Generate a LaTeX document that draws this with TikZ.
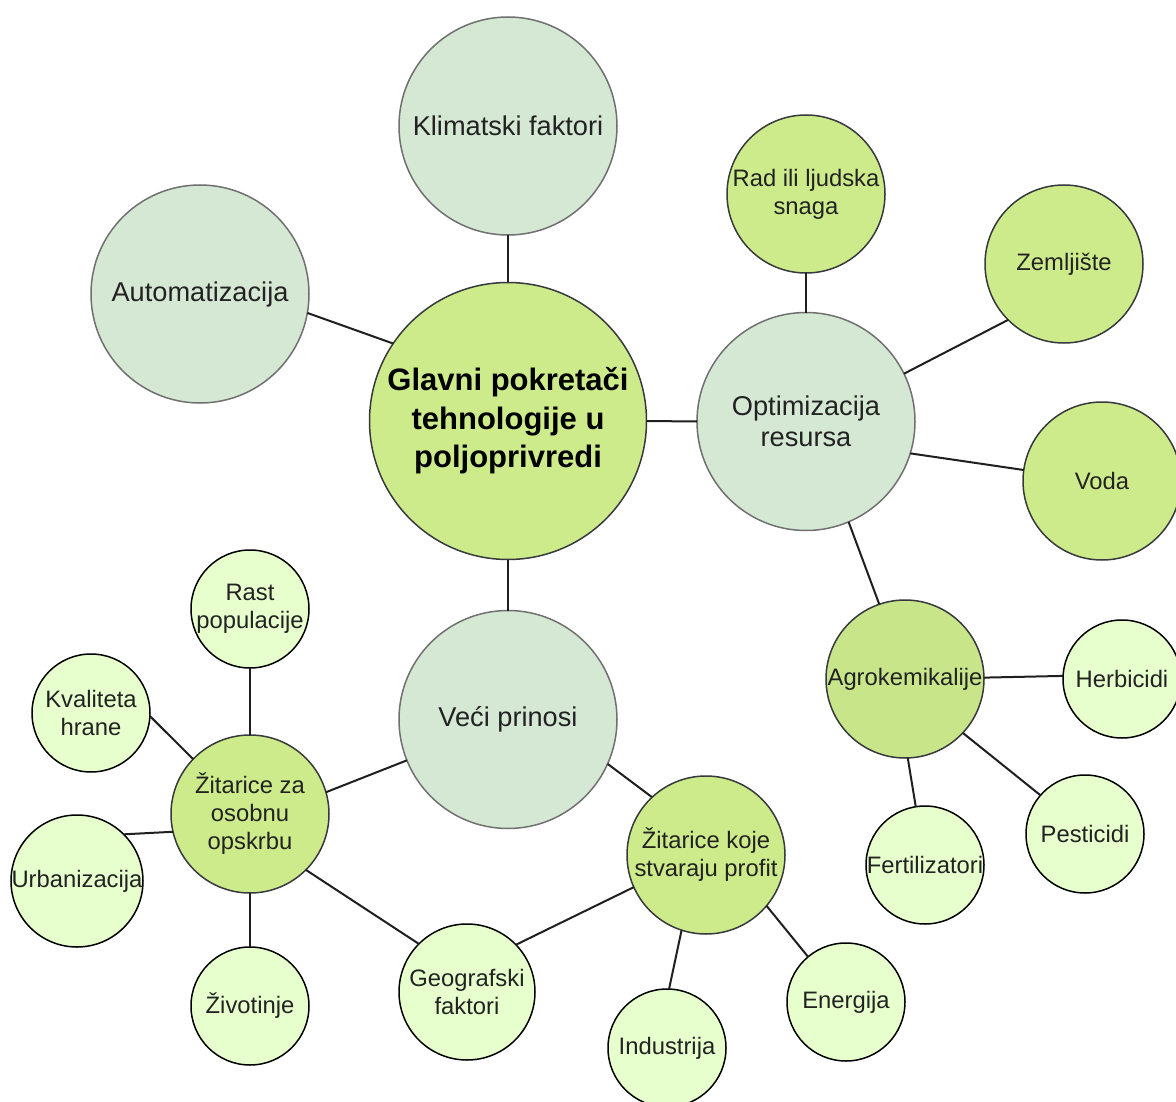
\documentclass[tikz,border=0pt]{standalone}
\usepackage{fontspec}
\setmainfont{Liberation Sans}
\definecolor{grayg}{HTML}{D5E8D4}
\definecolor{graybd}{HTML}{707070}
\definecolor{lime}{HTML}{CDEB8B}
\definecolor{limedk}{HTML}{C8E58A}
\definecolor{darkbd}{HTML}{36393D}
\definecolor{pale}{HTML}{E6FFCC}
\definecolor{txt}{HTML}{222222}
\tikzset{
  base/.style={circle, inner sep=-6pt, outer sep=0pt, align=center, text=txt, line width=1.5pt},
  core/.style={base, fill=lime, draw=darkbd, minimum size=277pt, text=black,
    font=\bfseries\fontsize{31}{38.5}\selectfont},
  big/.style={base, fill=grayg, draw=graybd, minimum size=218pt,
    font=\fontsize{27.2}{31.5}\selectfont},
  mid/.style={base, fill=lime, draw=darkbd, minimum size=158pt,
    font=\fontsize{23.8}{28}\selectfont},
  leaf/.style={base, fill=pale, draw=black, minimum size=118pt,
    font=\fontsize{23.8}{28}\selectfont},
  link/.style={line width=2pt, draw=black!88},
}
\begin{document}
\begin{tikzpicture}[x=1pt, y=-1pt]
\useasboundingbox (0,0) rectangle (1176,1102);
\fill[white] (0,0) rectangle (1176,1102);

% nodes
\node[core] (C) at (508,421) {Glavni pokretači\\tehnologije u\\poljoprivredi};
\node[big] (K) at (508,126) {Klimatski faktori};
\node[big] (A) at (200,294) {Automatizacija};
\node[big] (O) at (806,421.5) {Optimizacija\\resursa};
\node[big] (V) at (508,719.5) {Veći prinosi};

\node[mid] (R) at (806,194) {Rad ili ljudska\\snaga};
\node[mid] (Z) at (1064,264) {Zemljište};
\node[mid] (W) at (1102,481) {Voda};
\node[mid, fill=limedk] (G) at (905,679) {Agrokemikalije};
\node[mid] (ZK) at (706,855) {Žitarice koje\\stvaraju profit};
\node[mid] (ZZ) at (250,814) {Žitarice za\\osobnu\\opskrbu};

\node[leaf] (H) at (1122,679) {Herbicidi};
\node[leaf] (P) at (1085,834) {Pesticidi};
\node[leaf] (F) at (925,865) {Fertilizatori};
\node[leaf] (E) at (846,1002) {Energija};
\node[leaf] (I) at (667,1048) {Industrija};
\node[leaf, minimum size=136pt] (Geo) at (467,992) {Geografski\\faktori};
\node[leaf] (Ra) at (250,609) {Rast\\populacije};
\node[leaf] (Kv) at (91,713) {Kvaliteta\\hrane};
\node[leaf, minimum size=132pt] (U) at (77,881) {Urbanizacija};
\node[leaf] (Zi) at (250,1006) {Životinje};

% connectors
\draw[link] (K.-90) -- (C.90);
\draw[link] (A.-10.4) -- (C.146.5);
\draw[link] (C.0) -- (O.180);
\draw[link] (C.-90) -- (V.90);
\draw[link] (R.-90) -- (O.90);
\draw[link] (O.26.6) -- (Z.225);
\draw[link] (O.-17.2) -- (W.172);
\draw[link] (O.-67.6) -- (G.109.8);
\draw[link] (G.1) -- (H.177);
\draw[link] (G.-43.5) -- (P.139.8);
\draw[link] (G.-88) -- (F.99.6);
\draw[link] (V.-24) -- (ZK.133);
\draw[link] (ZZ.16.8) -- (V.202);
\draw[link] (ZK.-40) -- (E.130);
\draw[link] (ZK.-108) -- (I.88);
\draw[link] (ZK.204.9) -- (Geo.44.4);
\draw[link] (ZZ.-45) -- (Geo.135);
\draw[link] (ZZ.90) -- (Ra.-90);
\draw[link] (ZZ.136) -- (Kv.-3.7);
\draw[link] (ZZ.193.5) -- (U.45);
\draw[link] (ZZ.-90) -- (Zi.90);
\end{tikzpicture}
\end{document}
